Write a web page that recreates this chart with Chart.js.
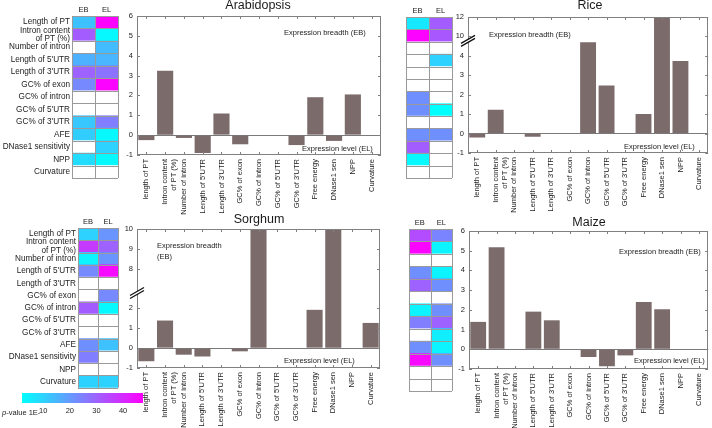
<!DOCTYPE html>
<html>
<head>
<meta charset="utf-8">
<script src="https://cdn.jsdelivr.net/npm/chart.js@4.4.1/dist/chart.umd.min.js"></script>
<style>
  body { margin: 0; width: 712px; height: 428px; background: #fff; position: relative; overflow: hidden;
         font-family: "Liberation Sans", Arial, sans-serif; }
  canvas { position: absolute; }
  .txt { position: absolute; white-space: nowrap; color: #1a1a1a; }
  .title { font-size: 12.5px; line-height: 14px; transform: translateX(-50%); }
  .note { font-size: 7.5px; line-height: 11px; color: #222; }
</style>
</head>
<body>
<canvas id="heatA" width="125" height="190" style="left:0;top:0"></canvas>
<canvas id="barA" width="290" height="225" style="left:100px;top:0"></canvas>
<canvas id="heatR" width="62" height="190" style="left:396px;top:0"></canvas>
<canvas id="barR" width="282" height="225" style="left:430px;top:0"></canvas>
<canvas id="heatS" width="125" height="180" style="left:0;top:214px"></canvas>
<canvas id="barS" width="290" height="214" style="left:100px;top:214px"></canvas>
<canvas id="heatM" width="62" height="180" style="left:396px;top:214px"></canvas>
<canvas id="barM" width="282" height="214" style="left:430px;top:214px"></canvas>
<canvas id="cbar" width="160" height="40" style="left:0;top:388px"></canvas>

<div class="txt title" style="left:258px;top:-2px">Arabidopsis</div>
<div class="txt title" style="left:590px;top:-2px">Rice</div>
<div class="txt title" style="left:259px;top:212px">Sorghum</div>
<div class="txt title" style="left:589px;top:215px">Maize</div>

<div class="txt note" style="left:284px;top:27px">Expression breadth (EB)</div>
<div class="txt note" style="left:302px;top:143px">Expression level (EL)</div>
<div class="txt note" style="left:489px;top:29px">Expression breadth (EB)</div>
<div class="txt note" style="left:624px;top:141px">Expression level (EL)</div>
<div class="txt note" style="left:157px;top:240px">Expression breadth<br>(EB)</div>
<div class="txt note" style="left:284px;top:355px">Expression level (EL)</div>
<div class="txt note" style="left:619px;top:246px">Expression breadth (EB)</div>
<div class="txt note" style="left:634px;top:355px">Expression level (EL)</div>
<div class="txt note" style="left:2px;top:407px"><i>p</i>-value 1E-</div>

<script>
// categories
const barLabels = ["length of PT", ["Intron content", "of PT (%)"], "Number of intron", "Length of 5'UTR",
  "Length of 3'UTR", "GC% of exon", "GC% of intron", "GC% of 5'UTR", "GC% of 3'UTR",
  "Free energy", "DNase1 sen", "NPP", "Curvature"];
const heatRows = ["Length of PT", ["Intron content", "of PT (%)"], "Number of intron", "Length of 5'UTR",
  "Length of 3'UTR", "GC% of exon", "GC% of intron", "GC% of 5'UTR", "GC% of 3'UTR",
  "AFE", "DNase1 sensitivity", "NPP", "Curvature"];
const heatCols = ["EB", "EL"];

// bar values (real values, broken axes handled below)
const arabidopsisBars = [-0.25, 3.24, -0.14, -0.9, 1.09, -0.46, 0, 0, -0.5, 1.91, -0.29, 2.05, 0];
const riceBars = [-0.2, 1.23, 0, -0.16, 0, 0, 4.7, 2.48, 0, 1.01, 12, 3.74, 0];
const sorghumBars = [-0.66, 1.39, -0.33, -0.42, 0, -0.16, 10, 0, 0, 1.93, 10, 0, 1.27];
const maizeBars = [1.39, 5.18, 0, 1.91, 1.47, 0, -0.39, -0.86, -0.31, 2.4, 2.03, 0, 0];

// y tick labels
const plainTicks = [-1, 0, 1, 2, 3, 4, 5, 6];
const riceTicks = [-1, 0, 1, 2, 3, 4, 10, 12];
const sorghumTicks = [-1, 0, 1, 2, 8, 9, 10];

// heatmap p-value exponents (null = not significant)
const arabidopsisEB = [13, 31, null, 16, 30, 23, null, null, 12, 11, null, 8, null];
const arabidopsisEL = [47, 3, 14, 15, 27, 47, null, null, 25, 3, 10, 3, null];
const riceEB = [6, 47, null, null, null, null, 22, 22, null, 22, 31, 3, null];
const riceEL = [31, 32, null, 10, null, null, null, 2, null, 22, null, null, null];
const sorghumEB = [10, 37, 4, 23, null, null, 31, null, null, 22, 25, null, 10];
const sorghumEL = [21, 30, 21, 46, null, 23, 3, null, null, 13, null, null, 10];
const maizeEB = [34, 47, null, 22, 30, null, 4, 25, null, 22, 46, null, null];
const maizeEL = [24, 4, null, 4, 22, null, 22, 30, 5, 4, 22, null, null];

const pMin = 2, pMax = 47.5;
const colorTicks = [10, 20, 30, 40];

Chart.defaults.font.family = '"Liberation Sans", Arial, sans-serif';
Chart.defaults.font.size = 7.5;
Chart.defaults.color = "#222";

function coolColor(v) {
  if (v === null) return "#ffffff";
  const t = Math.max(0, Math.min(1, (v - pMin) / (pMax - pMin)));
  return `rgb(${Math.round(255 * t)}, ${Math.round(255 * (1 - t))}, 255)`;
}

const noBreak = (v) => v;
const riceAxis = (v) => (v <= 5 ? v : 5 + (v - 10) / 2);
const sorghumAxis = (v) => (v <= 3 ? v : v - 4);

const boxPlugin = {
  id: "box",
  afterDraw(chart, args, opts) {
    const { ctx, chartArea: a, scales } = chart;
    const x = scales.x, y = scales.y;
    ctx.save();
    ctx.strokeStyle = "#808080";
    ctx.lineWidth = 1;
    ctx.strokeRect(Math.round(a.left) + 0.5, Math.round(a.top) + 0.5,
      Math.round(a.width) - 1, Math.round(a.height) - 1);
    ctx.beginPath();
    y.ticks.forEach((t) => {
      const py = Math.round(y.getPixelForValue(t.value)) + 0.5;
      ctx.moveTo(a.left, py); ctx.lineTo(a.left + 3, py);
      ctx.moveTo(a.right - 3, py); ctx.lineTo(a.right, py);
    });
    x.ticks.forEach((t, i) => {
      const px = Math.round(x.getPixelForTick(i)) + 0.5;
      ctx.moveTo(px, a.bottom); ctx.lineTo(px, a.bottom - 3);
      ctx.moveTo(px, a.top); ctx.lineTo(px, a.top + 3);
    });
    ctx.stroke();
    if (opts.breakAt != null) {
      const py = y.getPixelForValue(opts.breakAt);
      const px = a.left;
      ctx.fillStyle = "#fff";
      ctx.beginPath();
      ctx.moveTo(px - 7, py + 4); ctx.lineTo(px + 7, py - 4);
      ctx.lineTo(px + 7, py - 1); ctx.lineTo(px - 7, py + 7);
      ctx.closePath(); ctx.fill();
      ctx.strokeStyle = "#111";
      ctx.lineWidth = 1.3;
      ctx.beginPath();
      ctx.moveTo(px - 7, py + 4); ctx.lineTo(px + 7, py - 4);
      ctx.moveTo(px - 7, py + 7); ctx.lineTo(px + 7, py - 1);
      ctx.stroke();
    }
    ctx.restore();
  },
};

function createBarChart(id, values, ticks, toAxis, geo, breakAt) {
  new Chart(document.getElementById(id), {
    type: "bar",
    data: {
      labels: barLabels,
      datasets: [{
        data: values.map(toAxis),
        backgroundColor: "#7b6b6b",
        borderWidth: 0,
        barPercentage: 0.86,
        categoryPercentage: 1,
      }],
    },
    options: {
      responsive: false,
      animation: false,
      layout: { padding: { top: geo.top, right: geo.right, left: 0, bottom: 0 } },
      plugins: { legend: { display: false }, tooltip: { enabled: false }, box: { breakAt } },
      scales: {
        x: {
          grid: { display: false, drawTicks: false },
          border: { display: false },
          ticks: { autoSkip: false, maxRotation: 90, minRotation: 90, padding: 4, color: "#222" },
          afterFit: (s) => { s.height = geo.xh; },
        },
        y: {
          min: -1,
          max: 6,
          afterBuildTicks: (s) => { s.ticks = ticks.map((v) => ({ value: toAxis(v) })); },
          ticks: { callback: (v, i) => String(ticks[i]), padding: 4, color: "#222" },
          grid: {
            drawTicks: false,
            color: (c) => (c.tick && c.tick.value === 0 ? "#7a7a7a" : "rgba(0,0,0,0)"),
          },
          border: { display: false },
          afterFit: (s) => { s.width = geo.yw; },
        },
      },
    },
    plugins: [boxPlugin],
  });
}

const heatGrid = {
  id: "heatGrid",
  afterDatasetsDraw(chart) {
    const { ctx, chartArea: a, scales: { x, y } } = chart;
    ctx.save();
    ctx.strokeStyle = "#9a9a9a";
    ctx.lineWidth = 1;
    ctx.beginPath();
    for (let i = 0; i <= heatRows.length; i++) {
      const py = Math.round(y.getPixelForValue(i - 0.5)) + 0.5;
      ctx.moveTo(a.left, py); ctx.lineTo(a.right, py);
    }
    [0, 1, 2].forEach((v) => {
      const px = Math.round(x.getPixelForValue(v)) + 0.5;
      ctx.moveTo(px, a.top); ctx.lineTo(px, a.bottom);
    });
    ctx.stroke();
    ctx.restore();
  },
};

function createHeatmap(id, eb, el, geo, showLabels) {
  const ones = heatRows.map(() => 1);
  new Chart(document.getElementById(id), {
    type: "bar",
    data: {
      labels: heatRows,
      datasets: [
        { data: ones, backgroundColor: eb.map(coolColor), borderWidth: 0 },
        { data: ones, backgroundColor: el.map(coolColor), borderWidth: 0 },
      ],
    },
    options: {
      indexAxis: "y",
      responsive: false,
      animation: false,
      datasets: { bar: { barPercentage: 1, categoryPercentage: 1 } },
      layout: { padding: { left: geo.left, right: geo.right, top: 0, bottom: geo.bottom } },
      plugins: { legend: { display: false }, tooltip: { enabled: false } },
      scales: {
        x: {
          type: "linear",
          position: "top",
          stacked: true,
          min: 0,
          max: 2,
          afterBuildTicks: (s) => { s.ticks = [{ value: 0.5 }, { value: 1.5 }]; },
          ticks: { callback: (v, i) => heatCols[i], padding: 2, color: "#222" },
          grid: { display: false, drawTicks: false },
          border: { display: false },
          afterFit: (s) => { s.height = geo.xh; },
        },
        y: {
          stacked: true,
          display: showLabels,
          grid: { display: false, drawTicks: false },
          border: { display: false },
          ticks: { autoSkip: false, padding: 2, color: "#222", font: { size: 8.2, lineHeight: 1.05 } },
          afterFit: (s) => { s.width = geo.yw; },
        },
      },
    },
    plugins: [heatGrid],
  });
}

function createColorbar() {
  new Chart(document.getElementById("cbar"), {
    type: "bar",
    data: {
      labels: [""],
      datasets: [{
        data: [[pMin, pMax]],
        borderWidth: 0,
        barPercentage: 1,
        categoryPercentage: 1,
        backgroundColor: (c) => {
          const a = c.chart.chartArea;
          if (!a) return "#888";
          const g = c.chart.ctx.createLinearGradient(a.left, 0, a.right, 0);
          g.addColorStop(0, coolColor(pMin));
          g.addColorStop(1, coolColor(pMax));
          return g;
        },
      }],
    },
    options: {
      indexAxis: "y",
      responsive: false,
      animation: false,
      layout: { padding: { left: 22, right: 17, top: 5, bottom: 0 } },
      plugins: { legend: { display: false }, tooltip: { enabled: false } },
      scales: {
        x: {
          type: "linear",
          min: pMin,
          max: pMax,
          afterBuildTicks: (s) => { s.ticks = colorTicks.map((v) => ({ value: v })); },
          ticks: { padding: 3, color: "#222" },
          grid: { display: false, drawTicks: false },
          border: { display: false },
          afterFit: (s) => { s.height = 25; },
        },
        y: { display: false },
      },
    },
  });
}

createHeatmap("heatA", arabidopsisEB, arabidopsisEL, { left: 0, right: 7, bottom: 12, xh: 16, yw: 72 }, true);
createHeatmap("heatR", riceEB, riceEL, { left: 10, right: 6, bottom: 12, xh: 17, yw: 0 }, false);
createHeatmap("heatS", sorghumEB, sorghumEL, { left: 0, right: 7, bottom: 5, xh: 14, yw: 78 }, true);
createHeatmap("heatM", maizeEB, maizeEL, { left: 13, right: 6, bottom: 3, xh: 15, yw: 0 }, false);

createBarChart("barA", arabidopsisBars, plainTicks, noBreak, { top: 16, right: 9, yw: 37, xh: 70 }, null);
createBarChart("barR", riceBars, riceTicks, riceAxis, { top: 17, right: 2, yw: 38, xh: 72 }, 4.85);
createBarChart("barS", sorghumBars, sorghumTicks, sorghumAxis, { top: 15, right: 10, yw: 37, xh: 60 }, 2.85);
createBarChart("barM", maizeBars, plainTicks, noBreak, { top: 17, right: 2, yw: 39, xh: 59 }, null);

createColorbar();
</script>
</body>
</html>
